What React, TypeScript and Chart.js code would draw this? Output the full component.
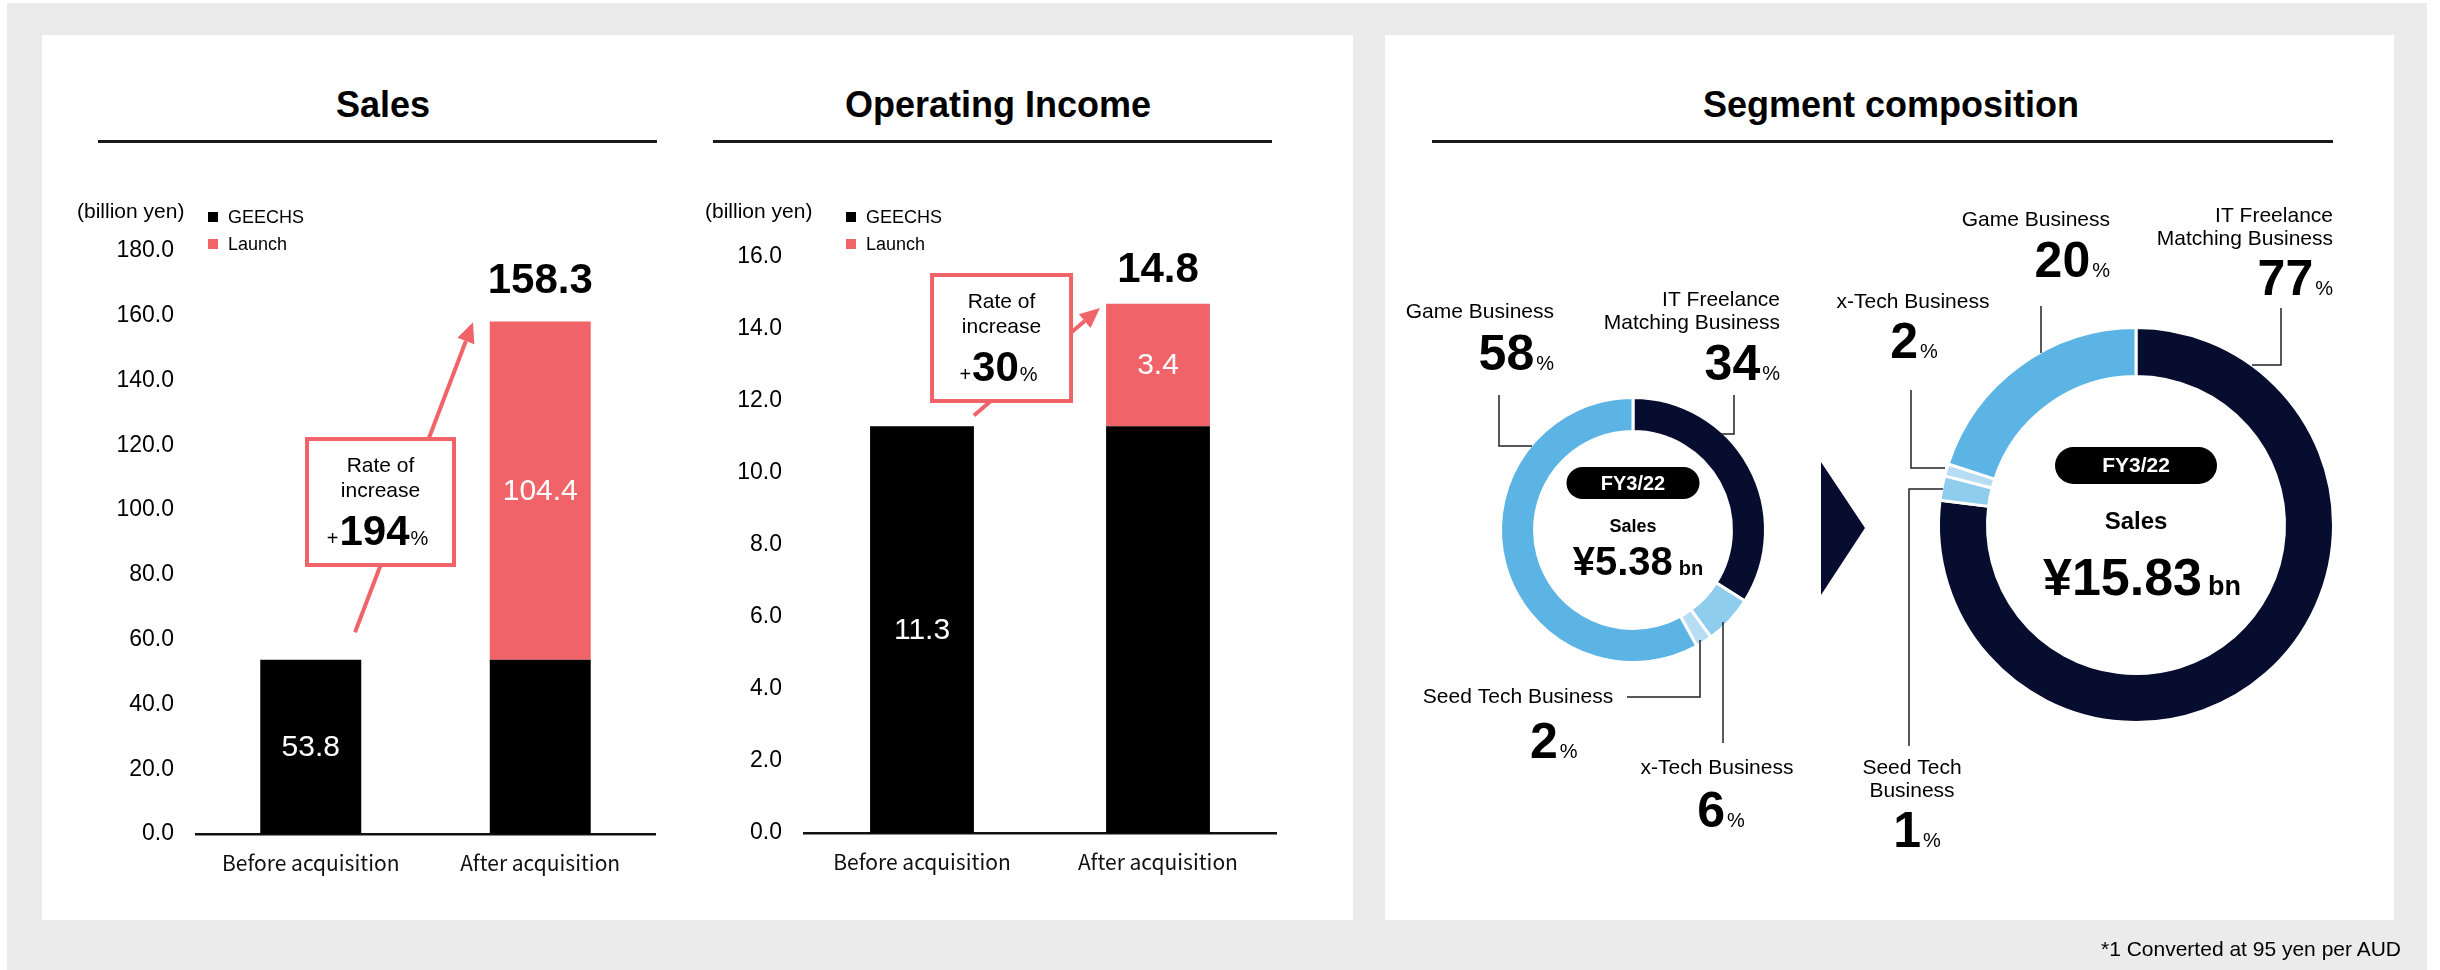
import React, { useEffect, useRef } from "react";
import { Chart, registerables } from "chart.js";

Chart.register(...registerables);

// ---------------- data ----------------
const barCategories = ["Before acquisition", "After acquisition"];
const seriesNames = ["GEECHS", "Launch"];

const salesGeechs = [53.8, 53.8];
const salesLaunch = [null, 104.4];
const salesGeechsLabels = ["53.8", null];
const salesLaunchLabels = [null, "104.4"];
const salesTotals = [null, "158.3"];
const salesRate = "194";
const salesAxisMax = 180;
const salesAxisStep = 20;

const incomeGeechs = [11.3, 11.3];
const incomeLaunch = [null, 3.4];
const incomeGeechsLabels = ["11.3", null];
const incomeLaunchLabels = [null, "3.4"];
const incomeTotals = [null, "14.8"];
const incomeRate = "30";
const incomeAxisMax = 16;
const incomeAxisStep = 2;

const segmentNames = ["IT Freelance Matching Business", "x-Tech Business", "Seed Tech Business", "Game Business"];
const segmentBefore = [34, 6, 2, 58];
const segmentAfter = [77, 2, 1, 20];
const periodLabel = "FY3/22";
const salesBeforeTotal = "5.38";
const salesAfterTotal = "15.83";

// ---------------- styles ----------------
const FONT = '"Liberation Sans", Arial, Helvetica, sans-serif';
const JP_FONT = '"Noto Sans CJK JP", "Noto Sans", sans-serif';
const RED = "#f06469";
const BLACK = "#000000";
const NAVY = "#060d2e";
const SEG_COLORS = [NAVY, "#8fcdee", "#b6ddf3", "#5bb4e3"];

type Part = { s: string; font: string };

function txt(ctx: CanvasRenderingContext2D, s: string, x: number, y: number, font: string, color: string,
  align: CanvasTextAlign = "center", base: CanvasTextBaseline = "middle") {
  ctx.font = font;
  ctx.fillStyle = color;
  ctx.textAlign = align;
  ctx.textBaseline = base;
  ctx.fillText(s, x, y);
}

function parts(ctx: CanvasRenderingContext2D, ps: Part[], x: number, baseY: number,
  align: "left" | "center" | "right", color: string, gap = 2) {
  const widths = ps.map((p) => { ctx.font = p.font; return ctx.measureText(p.s).width; });
  const total = widths.reduce((a, b) => a + b, 0) + gap * (ps.length - 1);
  let cur = align === "left" ? x : align === "center" ? x - total / 2 : x - total;
  ctx.textAlign = "left";
  ctx.textBaseline = "alphabetic";
  ctx.fillStyle = color;
  ps.forEach((p, i) => {
    ctx.font = p.font;
    ctx.fillText(p.s, cur, baseY);
    cur += widths[i] + gap;
  });
}

// ---------------- bar chart ----------------
type BarSpec = {
  geechs: (number | null)[];
  launch: (number | null)[];
  geechsLabels: (string | null)[];
  launchLabels: (string | null)[];
  totals: (string | null)[];
  max: number;
  step: number;
  rate: string;
  yAxisWidth: number;
  xAxisHeight: number;
  padTop: number;
  padRight: number;
  totalGap: number;
  arrowFrom: [number, number];
  arrowTo: [number, number];
  box: { cx: number; cy: number; w: number; h: number };
  unit: { x: number; y: number };
  legend: { x: number; y1: number; y2: number };
};

function barAnnotPlugin(spec: BarSpec) {
  return {
    id: "barAnnot",
    afterDatasetsDraw(chart: any) {
      const ctx: CanvasRenderingContext2D = chart.ctx;
      const xs = chart.scales.x;
      const ys = chart.scales.y;
      ctx.save();
      // labels inside segments
      const segLabels = [spec.geechsLabels, spec.launchLabels];
      chart.data.datasets.forEach((_ds: any, di: number) => {
        const meta = chart.getDatasetMeta(di);
        meta.data.forEach((bar: any, i: number) => {
          const lbl = segLabels[di][i];
          if (!lbl) return;
          const { x, y, base } = bar.getProps(["x", "y", "base"], true);
          txt(ctx, lbl, x, (y + base) / 2 + 1, `30px ${FONT}`, "#ffffff");
        });
      });
      // totals
      spec.totals.forEach((t, i) => {
        if (!t) return;
        let top = Infinity;
        let x = 0;
        chart.data.datasets.forEach((ds: any, di: number) => {
          if (ds.data[i] == null) return;
          const bar = chart.getDatasetMeta(di).data[i];
          top = Math.min(top, bar.y);
          x = bar.x;
        });
        txt(ctx, t, x, top - spec.totalGap, `bold 42px ${FONT}`, "#000", "center", "alphabetic");
      });
      // arrow
      const p0 = { x: xs.getPixelForValue(spec.arrowFrom[0]), y: ys.getPixelForValue(spec.arrowFrom[1]) };
      const p1 = { x: xs.getPixelForValue(spec.arrowTo[0]), y: ys.getPixelForValue(spec.arrowTo[1]) };
      const ang = Math.atan2(p1.y - p0.y, p1.x - p0.x);
      const headLen = 20, headW = 9;
      const bx = p1.x - headLen * Math.cos(ang), by = p1.y - headLen * Math.sin(ang);
      ctx.strokeStyle = RED;
      ctx.fillStyle = RED;
      ctx.lineWidth = 4;
      ctx.beginPath();
      ctx.moveTo(p0.x, p0.y);
      ctx.lineTo(bx, by);
      ctx.stroke();
      ctx.beginPath();
      ctx.moveTo(p1.x, p1.y);
      ctx.lineTo(bx - headW * Math.sin(ang), by + headW * Math.cos(ang));
      ctx.lineTo(bx + headW * Math.sin(ang), by - headW * Math.cos(ang));
      ctx.closePath();
      ctx.fill();
      // callout box
      const bcx = xs.getPixelForValue(spec.box.cx);
      const bcy = ys.getPixelForValue(spec.box.cy);
      const bl = bcx - spec.box.w / 2, bt = bcy - spec.box.h / 2;
      ctx.fillStyle = "#ffffff";
      ctx.fillRect(bl, bt, spec.box.w, spec.box.h);
      ctx.lineWidth = 4;
      ctx.strokeStyle = RED;
      ctx.strokeRect(bl, bt, spec.box.w, spec.box.h);
      txt(ctx, "Rate of", bcx, bt + 27, `21px ${FONT}`, "#000");
      txt(ctx, "increase", bcx, bt + 52, `21px ${FONT}`, "#000");
      parts(ctx, [
        { s: "+", font: `20px ${FONT}` },
        { s: spec.rate, font: `bold 42px ${FONT}` },
        { s: "%", font: `20px ${FONT}` },
      ], bcx - 3, bt + 106, "center", "#000", 1);
      // unit + legend
      txt(ctx, "(billion yen)", spec.unit.x, spec.unit.y, `21px ${FONT}`, "#000", "left");
      ctx.fillStyle = BLACK;
      ctx.fillRect(spec.legend.x, spec.legend.y1 - 5, 10, 10);
      ctx.fillStyle = RED;
      ctx.fillRect(spec.legend.x, spec.legend.y2 - 5, 10, 10);
      txt(ctx, seriesNames[0], spec.legend.x + 20, spec.legend.y1 + 1, `18px ${FONT}`, "#000", "left");
      txt(ctx, seriesNames[1], spec.legend.x + 20, spec.legend.y2 + 1, `18px ${FONT}`, "#000", "left");
      ctx.restore();
    },
  };
}

function BarPanel(props: { left: number; top: number; width: number; height: number; spec: BarSpec }) {
  const ref = useRef<HTMLCanvasElement>(null);
  const { left, top, width, height, spec } = props;
  useEffect(() => {
    const chart = new Chart(ref.current as HTMLCanvasElement, {
      type: "bar",
      data: {
        labels: barCategories,
        datasets: [
          { label: seriesNames[0], data: spec.geechs as any, backgroundColor: BLACK, stack: "s", barPercentage: 0.44, categoryPercentage: 1 },
          { label: seriesNames[1], data: spec.launch as any, backgroundColor: RED, stack: "s", barPercentage: 0.44, categoryPercentage: 1 },
        ],
      },
      options: {
        animation: false,
        responsive: false,
        maintainAspectRatio: false,
        layout: { padding: { top: spec.padTop, right: spec.padRight, left: 0, bottom: 0 } },
        plugins: { legend: { display: false }, tooltip: { enabled: false } },
        scales: {
          x: {
            stacked: true,
            grid: { display: false, drawTicks: false },
            border: { display: true, color: "#111", width: 2.5 },
            ticks: { font: { family: JP_FONT, size: 21 }, color: "#111", padding: 16 },
            afterFit: (s: any) => { s.height = spec.xAxisHeight; },
          },
          y: {
            stacked: true,
            min: 0,
            max: spec.max,
            grid: { display: false, drawTicks: false },
            border: { display: false },
            ticks: {
              stepSize: spec.step,
              callback: (v: any) => Number(v).toFixed(1),
              font: { family: FONT, size: 23 },
              color: "#000",
              padding: 22,
            },
            afterFit: (s: any) => { s.width = spec.yAxisWidth; },
          },
        },
      } as any,
      plugins: [barAnnotPlugin(spec)],
    });
    return () => chart.destroy();
  }, []);
  return <canvas ref={ref} width={width} height={height} style={{ position: "absolute", left, top, width, height }} />;
}

// ---------------- doughnut ----------------
type DLabel = {
  index: number;
  lines: string[];
  tx: number; ty: number; talign: CanvasTextAlign;
  nx: number; ny: number; nalign: "left" | "center" | "right";
  leader: [number, number][];
};
type DonutSpec = {
  data: number[];
  total: string;
  cutout: string;
  pill: { w: number; h: number; dy: number; font: number };
  salesDy: number; salesFont: number;
  totalDy: number; totalDx: number; totalFont: number; bnFont: number;
  labels: DLabel[];
};

function donutPlugin(spec: DonutSpec) {
  return {
    id: "donutAnnot",
    afterDraw(chart: any) {
      const ctx: CanvasRenderingContext2D = chart.ctx;
      const ca = chart.chartArea;
      const cx = (ca.left + ca.right) / 2;
      const cy = (ca.top + ca.bottom) / 2;
      const values = chart.data.datasets[0].data;
      ctx.save();
      // pill
      const { w, h, dy } = spec.pill;
      const pl = cx - w / 2, pt = cy + dy - h / 2, r = h / 2;
      ctx.fillStyle = "#000";
      ctx.beginPath();
      ctx.moveTo(pl + r, pt);
      ctx.lineTo(pl + w - r, pt);
      ctx.arc(pl + w - r, pt + r, r, -Math.PI / 2, Math.PI / 2);
      ctx.lineTo(pl + r, pt + h);
      ctx.arc(pl + r, pt + r, r, Math.PI / 2, Math.PI * 1.5);
      ctx.closePath();
      ctx.fill();
      txt(ctx, periodLabel, cx, cy + dy + 1, `bold ${spec.pill.font}px ${FONT}`, "#fff");
      txt(ctx, "Sales", cx, cy + spec.salesDy, `bold ${spec.salesFont}px ${FONT}`, "#000");
      parts(ctx, [
        { s: "¥" + spec.total, font: `bold ${spec.totalFont}px ${FONT}` },
        { s: "bn", font: `bold ${spec.bnFont}px ${FONT}` },
      ], cx + spec.totalDx, cy + spec.totalDy, "center", "#000", 6);
      // labels and leaders
      ctx.strokeStyle = "#222";
      ctx.lineWidth = 1.5;
      spec.labels.forEach((l) => {
        l.lines.forEach((line, k) => txt(ctx, line, cx + l.tx, cy + l.ty + k * 23, `21px ${FONT}`, "#000", l.talign));
        parts(ctx, [
          { s: String(values[l.index]), font: `bold 50px ${FONT}` },
          { s: "%", font: `20px ${FONT}` },
        ], cx + l.nx, cy + l.ny, l.nalign, "#000", 2);
        ctx.beginPath();
        l.leader.forEach(([x, y], k) => (k ? ctx.lineTo(cx + x, cy + y) : ctx.moveTo(cx + x, cy + y)));
        ctx.stroke();
      });
      ctx.restore();
    },
  };
}

function DonutPanel(props: { left: number; top: number; width: number; height: number; pad: { left: number; top: number; right: number; bottom: number }; spec: DonutSpec }) {
  const ref = useRef<HTMLCanvasElement>(null);
  const { left, top, width, height, pad, spec } = props;
  useEffect(() => {
    const chart = new Chart(ref.current as HTMLCanvasElement, {
      type: "doughnut",
      data: {
        labels: segmentNames,
        datasets: [{ data: spec.data, backgroundColor: SEG_COLORS, borderColor: "#ffffff", borderWidth: 3 }],
      },
      options: {
        animation: false,
        responsive: false,
        maintainAspectRatio: false,
        cutout: spec.cutout,
        layout: { padding: pad },
        plugins: { legend: { display: false }, tooltip: { enabled: false } },
      } as any,
      plugins: [donutPlugin(spec)],
    });
    return () => chart.destroy();
  }, []);
  return <canvas ref={ref} width={width} height={height} style={{ position: "absolute", left, top, width, height }} />;
}

// ---------------- specs ----------------
const salesSpec: BarSpec = {
  geechs: salesGeechs, launch: salesLaunch,
  geechsLabels: salesGeechsLabels, launchLabels: salesLaunchLabels,
  totals: salesTotals, max: salesAxisMax, step: salesAxisStep, rate: salesRate,
  yAxisWidth: 154, xAxisHeight: 76, padTop: 101, padRight: 37, totalGap: 29,
  arrowFrom: [0.193, 62.3], arrowTo: [0.707, 158.0],
  box: { cx: 0.304, cy: 102.5, w: 147, h: 126 },
  unit: { x: 35, y: 62 }, legend: { x: 166, y1: 67, y2: 94 },
};

const incomeSpec: BarSpec = {
  geechs: incomeGeechs, launch: incomeLaunch,
  geechsLabels: incomeGeechsLabels, launchLabels: incomeLaunchLabels,
  totals: incomeTotals, max: incomeAxisMax, step: incomeAxisStep, rate: incomeRate,
  yAxisWidth: 104, xAxisHeight: 77, padTop: 107, padRight: 64, totalGap: 22,
  arrowFrom: [0.22, 11.6], arrowTo: [0.754, 14.58],
  box: { cx: 0.337, cy: 13.75, w: 139, h: 126 },
  unit: { x: 5, y: 62 }, legend: { x: 146, y1: 67, y2: 94 },
};

const beforeSpec: DonutSpec = {
  data: segmentBefore, total: salesBeforeTotal, cutout: "74.3%",
  pill: { w: 133, h: 32, dy: -47, font: 20 },
  salesDy: -3, salesFont: 18, totalDy: 45, totalDx: 5, totalFont: 40, bnFont: 20,
  labels: [
    { index: 3, lines: ["Game Business"], tx: -79, ty: -218, talign: "right", nx: -79, ny: -160, nalign: "right", leader: [[-134, -135], [-134, -84], [-101, -84]] },
    { index: 0, lines: ["IT Freelance", "Matching Business"], tx: 147, ty: -230, talign: "right", nx: 147, ny: -150, nalign: "right", leader: [[101, -135], [101, -96], [88, -96]] },
    { index: 2, lines: ["Seed Tech Business"], tx: -115, ty: 167, talign: "center", nx: -103, ny: 228, nalign: "left", leader: [[-6, 167], [67, 167], [67, 110]] },
    { index: 1, lines: ["x-Tech Business"], tx: 84, ty: 238, talign: "center", nx: 88, ny: 297, nalign: "center", leader: [[90, 92], [90, 213]] },
  ],
};

const afterSpec: DonutSpec = {
  data: segmentAfter, total: salesAfterTotal, cutout: "75.2%",
  pill: { w: 162, h: 37, dy: -59.5, font: 21 },
  salesDy: -3, salesFont: 24, totalDy: 70, totalDx: 6, totalFont: 52, bnFont: 27,
  labels: [
    { index: 1, lines: ["x-Tech Business"], tx: -223, ty: -223, talign: "center", nx: -222, ny: -167, nalign: "center", leader: [[-225, -135], [-225, -57], [-191, -57]] },
    { index: 3, lines: ["Game Business"], tx: -26, ty: -305, talign: "right", nx: -26, ny: -248, nalign: "right", leader: [[-95, -219], [-95, -172]] },
    { index: 0, lines: ["IT Freelance", "Matching Business"], tx: 197, ty: -309, talign: "right", nx: 197, ny: -230, nalign: "right", leader: [[145, -217], [145, -160], [116, -160]] },
    { index: 2, lines: ["Seed Tech", "Business"], tx: -224, ty: 243, talign: "center", nx: -219, ny: 322, nalign: "center", leader: [[-193, -36], [-227, -36], [-227, 221]] },
  ],
};

// ---------------- layout ----------------
function Title(props: { text: string; cx: number }) {
  return (
    <div style={{
      position: "absolute", left: props.cx - 400, width: 800, top: 87, textAlign: "center",
      fontFamily: FONT, fontWeight: "bold", fontSize: 36, lineHeight: "36px", color: "#000",
    }}>{props.text}</div>
  );
}

function Rule(props: { x1: number; x2: number }) {
  return <div style={{ position: "absolute", left: props.x1, top: 140, width: props.x2 - props.x1, height: 3, background: "#1a1a1a" }} />;
}

export default function App() {
  return (
    <div style={{ position: "absolute", left: 0, top: 0, width: 2440, height: 970, background: "#fff", overflow: "hidden", fontFamily: FONT }}>
      <div style={{ position: "absolute", left: 7, top: 3, width: 2420, height: 967, background: "#ebebeb" }} />
      <div style={{ position: "absolute", left: 42, top: 35, width: 1311, height: 885, background: "#fff" }} />
      <div style={{ position: "absolute", left: 1385, top: 35, width: 1009, height: 885, background: "#fff" }} />

      <Title text="Sales" cx={383} />
      <Rule x1={98} x2={657} />
      <Title text="Operating Income" cx={998} />
      <Rule x1={713} x2={1272} />
      <Title text="Segment composition" cx={1891} />
      <Rule x1={1432} x2={2333} />

      <BarPanel left={42} top={150} width={650} height={760} spec={salesSpec} />
      <BarPanel left={700} top={150} width={640} height={760} spec={incomeSpec} />

      <DonutPanel left={1395} top={280} width={405} height={560}
        pad={{ left: 104, top: 116, right: 33, bottom: 176 }} spec={beforeSpec} />
      <svg style={{ position: "absolute", left: 0, top: 0 }} width={2440} height={970} pointerEvents="none">
        <polygon points="1821,462 1865,528 1821,595" fill={NAVY} />
      </svg>
      <DonutPanel left={1815} top={190} width={535} height={690}
        pad={{ left: 122, top: 136, right: 15, bottom: 156 }} spec={afterSpec} />

      <div style={{
        position: "absolute", right: 2440 - 2401, top: 938, fontFamily: FONT, fontSize: 21,
        lineHeight: "21px", color: "#000", whiteSpace: "nowrap",
      }}>*1 Converted at 95 yen per AUD</div>
    </div>
  );
}
